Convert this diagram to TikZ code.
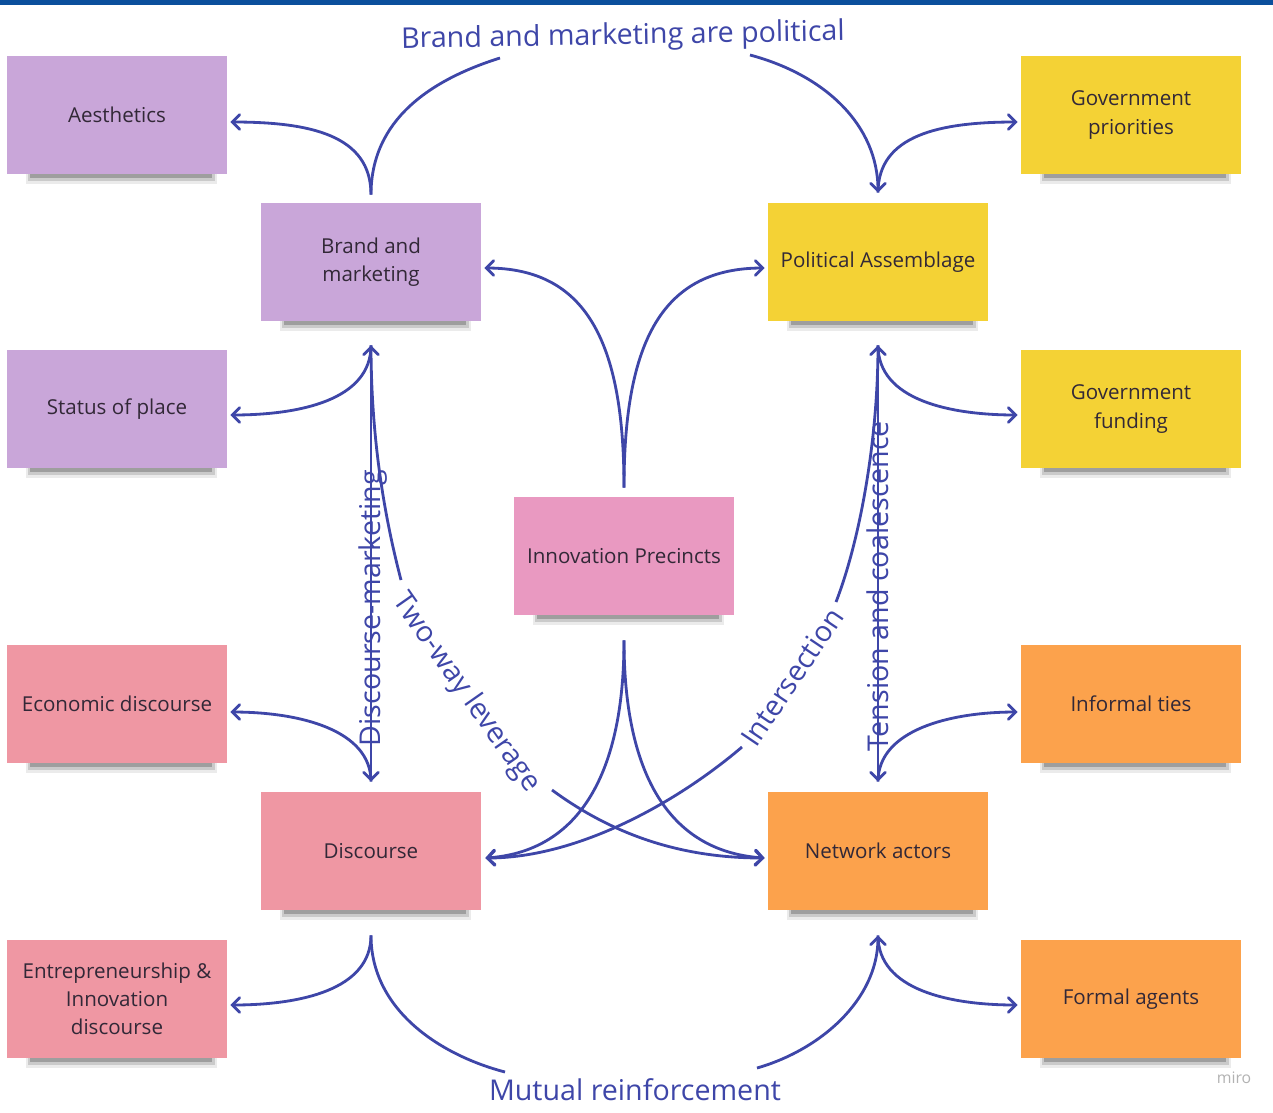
\documentclass[tikz,border=0pt]{standalone}
\usepackage{fontspec}
\setmainfont{Open Sans}
\usepackage{tikz}
\usetikzlibrary{calc}
\usetikzlibrary{arrows}
\usetikzlibrary{positioning}
\usetikzlibrary{shadows}
\definecolor{lavender}{RGB}{201, 166, 217}
\definecolor{sunflower}{RGB}{244, 210, 53}
\definecolor{orchid}{RGB}{233, 153, 193}
\definecolor{salmon}{RGB}{239, 151, 163}
\definecolor{tangerine}{RGB}{252, 162, 76}
\definecolor{indigo}{RGB}{62, 70, 168}
\definecolor{headerblue}{RGB}{11, 79, 156}
\definecolor{ink}{RGB}{50, 40, 55}

\begin{document}
\begin{tikzpicture}[x=0.02cm, y=-0.02cm,
    note/.style={minimum width=4.4cm, minimum height=2.36cm, inner sep=2pt, align=center, text=ink,
                 font=\fontsize{11.7}{16}\selectfont,
                 drop shadow={shadow xshift=0.1cm, shadow yshift=-0.40cm, shadow scale=0.87, fill=black, opacity=0.08},
                 drop shadow={shadow xshift=0.1cm, shadow yshift=-0.37cm, shadow scale=0.85, fill=black, opacity=0.14},
                 drop shadow={shadow xshift=0.1cm, shadow yshift=-0.34cm, shadow scale=0.83, fill=black, opacity=0.22}},
    link/.style={indigo, line width=1.6pt, >=angle 90},
    tag/.style={text=indigo, font=\fontsize{16.3}{19}\selectfont, inner sep=0pt}]
            \useasboundingbox                                  (0, 0) rectangle (1273, 1112);
            \fill[headerblue]                                  (0, 0) rectangle (1273, 5);

            \node[note, fill=lavender]  (aesthetics) at ( 117, 115) {Aesthetics};
            \node[note, fill=lavender]  (brand)      at ( 371, 262) {Brand and\\marketing};
            \node[note, fill=lavender]  (status)     at ( 117, 409) {Status of place};
            \node[note, fill=sunflower] (govprio)    at (1131, 115) {Government\\priorities};
            \node[note, fill=sunflower] (assemblage) at ( 878, 262) {Political Assemblage};
            \node[note, fill=sunflower] (govfund)    at (1131, 409) {Government\\funding};
            \node[note, fill=orchid]    (precincts)  at ( 624, 556) {Innovation Precincts};
            \node[note, fill=salmon]    (econ)       at ( 117, 704) {Economic discourse};
            \node[note, fill=salmon]    (discourse)  at ( 371, 851) {Discourse};
            \node[note, fill=salmon]    (entre)      at ( 117, 999) {Entrepreneurship \&\\Innovation\\discourse};
            \node[note, fill=tangerine] (informal)   at (1131, 704) {Informal ties};
            \node[note, fill=tangerine] (network)    at ( 878, 851) {Network actors};
            \node[note, fill=tangerine] (formal)     at (1131, 999) {Formal agents};

            \coordinate (brandN)  at ($(brand.north)+(0,-8)$);
            \coordinate (brandS)  at ($(brand.south)+(0,24)$);
            \coordinate (brandE)  at ($(brand.east)+(3,6)$);
            \coordinate (assemN)  at ($(assemblage.north)+(0,-10)$);
            \coordinate (assemS)  at ($(assemblage.south)+(0,24)$);
            \coordinate (assemW)  at ($(assemblage.west)+(-3,6)$);
            \coordinate (precN)   at ($(precincts.north)+(0,-9)$);
            \coordinate (precS)   at ($(precincts.south)+(0,25)$);
            \coordinate (discN)   at ($(discourse.north)+(0,-10)$);
            \coordinate (discS)   at ($(discourse.south)+(0,25)$);
            \coordinate (discE)   at ($(discourse.east)+(4,7)$);
            \coordinate (netN)    at ($(network.north)+(0,-10)$);
            \coordinate (netS)    at ($(network.south)+(0,25)$);
            \coordinate (netW)    at ($(network.west)+(-3,7)$);
            \coordinate (aesE)    at ($(aesthetics.east)+(3,7)$);
            \coordinate (statE)   at ($(status.east)+(3,6)$);
            \coordinate (econE)   at ($(econ.east)+(3,8)$);
            \coordinate (entreE)  at ($(entre.east)+(3,6)$);
            \coordinate (prioW)   at ($(govprio.west)+(-3,7)$);
            \coordinate (fundW)   at ($(govfund.west)+(-3,6)$);
            \coordinate (infW)    at ($(informal.west)+(-3,8)$);
            \coordinate (formW)   at ($(formal.west)+(-3,6)$);
            \coordinate (polA)    at (500, 58);
            \coordinate (polB)    at (750, 55);
            \coordinate (mutA)    at (505, 1072);
            \coordinate (mutB)    at (757, 1068);
            \coordinate (twoA)    at (401, 580);
            \coordinate (twoB)    at (552, 790);
            \coordinate (intA)    at (836, 602);
            \coordinate (intB)    at (742, 747);

            \draw[link,->]  (brandN) .. controls (371, 135) and (310, 122) .. (aesE);
            \draw[link]     (brandN) .. controls (371, 120) and (430, 80)  .. (polA);
            \draw[link,->]  (polB)   .. controls (825, 75)  and (878, 125) .. (assemN);
            \draw[link,->]  (assemN) .. controls (878, 135) and (940, 122) .. (prioW);
            \draw[link,->]  (precN)  .. controls (624, 340) and (585, 268) .. (brandE);
            \draw[link,->]  (precN)  .. controls (624, 340) and (663, 268) .. (assemW);
            \draw[link,->]  (brandS) .. controls (371, 400) and (300, 415) .. (statE);
            \draw[link,->]  (assemS) .. controls (878, 400) and (950, 415) .. (fundW);
            \draw[link,<->] (brandS) -- (discN);
            \draw[link,<->] (assemS) -- (netN);
            \draw[link]     (brandS) .. controls (371, 450) and (388, 530) .. (twoA);
            \draw[link,->]  (twoB)   .. controls (620, 840) and (690, 858) .. (netW);
            \draw[link]     (assemS) .. controls (878, 440) and (860, 540) .. (intA);
            \draw[link,->]  (intB)   .. controls (680, 800) and (580, 858) .. (discE);
            \draw[link,->]  (precS)  .. controls (624, 780) and (575, 852) .. (discE);
            \draw[link,->]  (precS)  .. controls (624, 780) and (673, 852) .. (netW);
            \draw[link,->]  (discN)  .. controls (371, 730) and (300, 712) .. (econE);
            \draw[link,->]  (netN)   .. controls (878, 730) and (950, 712) .. (infW);
            \draw[link,->]  (discS)  .. controls (371, 990) and (300, 1005) .. (entreE);
            \draw[link,->]  (netS)   .. controls (878, 990) and (950, 1005) .. (formW);
            \draw[link]     (discS)  .. controls (371, 1010) and (440, 1055) .. (mutA);
            \draw[link,->]  (mutB)   .. controls (820, 1050) and (878, 1000) .. (netS);

            \node[tag, rotate=1]   (political) at (623, 37)  {Brand and marketing are political};
            \node[tag]             (mutual)    at (635, 1090) {Mutual reinforcement};
            \node[tag, rotate=90]  (dismark)   at (373, 608) {Discourse-marketing};
            \node[tag, rotate=90]  (tension)   at (878, 586) {Tension and coalescence};
            \node[tag, rotate=-55] (twoway)    at (466, 693) {Two-way leverage};
            \node[tag, rotate=56]  (intersect) at (792, 677) {Intersection};
            \node[text=black!30, font=\fontsize{9}{10}\selectfont] (miro) at (1234, 1078) {miro};
        \end{tikzpicture}
\end{document}
